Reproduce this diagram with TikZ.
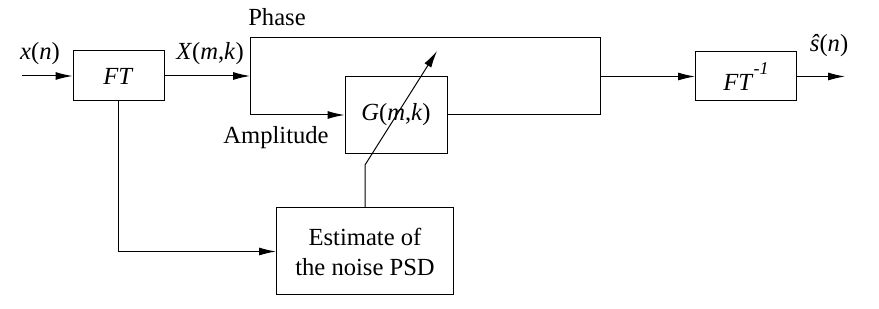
\documentclass[tikz,border=0pt]{standalone}
\usepackage{fontspec}
\setmainfont{Liberation Serif}
\usetikzlibrary{arrows.meta}
\begin{document}
\begin{tikzpicture}[x=0.5pt,y=-0.5pt,
  every node/.style={font=\fontsize{12.3}{15}\selectfont},
  blk/.style={draw,line width=0.5pt,inner sep=0pt,align=center},
  arr/.style={-{Latex[length=8.5pt,width=4pt]}},
  line width=0.5pt]
\useasboundingbox (0,0) rectangle (879,309);
\node[blk,minimum width=45.5pt,minimum height=25pt] (FT) at (118.5,76) {\textit{FT}};
\node[blk,minimum width=51pt,minimum height=38.5pt] (G) at (396,115) {\textit{G}(\textit{m},\textit{k})};
\node[blk,minimum width=88.5pt,minimum height=43.5pt] (Est) at (365,251.5) {Estimate of\\the noise PSD};
\node[blk,minimum width=50.5pt,minimum height=24.5pt] (FTi) at (746,76.5) {\textit{FT}\raisebox{0.65em}{\fontsize{9}{10}\selectfont\textit{-1}}};
\coordinate (in) at (22,76);
\coordinate (tl) at (250,38);
\coordinate (tr) at (600,38);
\coordinate (br) at (600,115);
\coordinate (mid) at (600,76.5);
\coordinate (out) at (845,76.5);
\coordinate (bend) at (365,165);
\coordinate (tip) at (437,51);
\node (xn) at (40,54) {\textit{x}(\textit{n})};
\node (Xmk) at (210,54) {\textit{X}(\textit{m},\textit{k})};
\node (ph) at (277,17) {Phase};
\node (amp) at (276,138) {Amplitude};
\node (sn) at (829,46) {\textit{\^{s}}(\textit{n})};
\draw[arr] (in) -- (FT.west);
\draw[arr] (FT.east) -- (FT.east -| tl);
\draw[arr] (tl) |- (G.west);
\draw (tl) -- (tr) -- (br) -- (G.east);
\draw[arr] (mid) -- (FTi.west);
\draw[arr] (FTi.east) -- (out);
\draw[arr] (FT.south) |- (Est.west);
\draw[arr] (Est.north) -- (bend) -- (tip);
\end{tikzpicture}
\end{document}
